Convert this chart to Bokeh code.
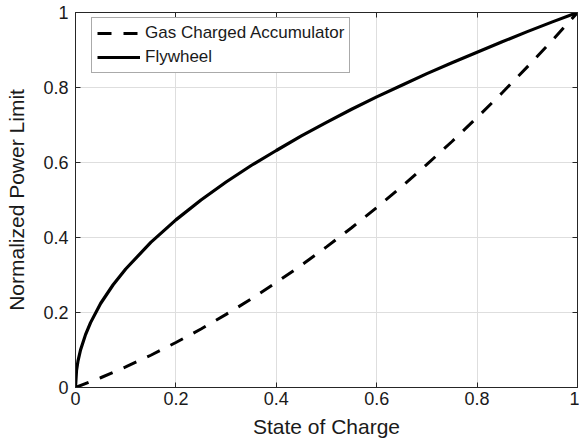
from bokeh.plotting import figure
from bokeh.models import FixedTicker, LinearAxis, Range1d, Legend, LegendItem
from bokeh.embed import file_html
from bokeh.resources import INLINE

# ---- data ----
soc_flywheel = [0, 0.002, 0.005, 0.01, 0.02, 0.03, 0.05, 0.075, 0.1, 0.15, 0.2, 0.25,
                0.3, 0.35, 0.4, 0.45, 0.5, 0.55, 0.6, 0.65, 0.7, 0.75, 0.8, 0.85,
                0.9, 0.95, 1.0]
power_flywheel = [0, 0.045, 0.071, 0.1, 0.141, 0.173, 0.224, 0.274, 0.316, 0.387, 0.447, 0.5,
                  0.548, 0.592, 0.632, 0.671, 0.707, 0.742, 0.775, 0.806, 0.837, 0.866, 0.894, 0.922,
                  0.949, 0.975, 1.0]

soc_gas = [0, 0.05, 0.1, 0.15, 0.2, 0.25, 0.3, 0.35, 0.4, 0.45, 0.5,
           0.55, 0.6, 0.65, 0.7, 0.75, 0.8, 0.85, 0.9, 0.95, 1.0]
power_gas = [0, 0.026, 0.055, 0.086, 0.12, 0.156, 0.195, 0.236, 0.28, 0.326, 0.375,
             0.426, 0.48, 0.536, 0.595, 0.656, 0.72, 0.786, 0.855, 0.926, 1.0]

x_ticks = [0, 0.2, 0.4, 0.6, 0.8, 1]
x_tick_labels = ["0", "0.2", "0.4", "0.6", "0.8", "1"]
y_ticks = [0, 0.2, 0.4, 0.6, 0.8, 1]
y_tick_labels = ["0", "0.2", "0.4", "0.6", "0.8", "1"]

FONT = "Liberation Sans"
TXT = "#1a1a1a"
AX = "#262626"

p = figure(width=579, height=446, output_backend="svg", toolbar_location=None,
           x_range=Range1d(0, 1), y_range=Range1d(0, 1),
           min_border_left=75, min_border_right=2, min_border_top=12, min_border_bottom=59)
p.background_fill_color = "white"
p.border_fill_color = "white"
p.outline_line_color = AX
p.outline_line_width = 1

# main axes
for ax, ticks, labels in ((p.xaxis[0], x_ticks, x_tick_labels), (p.yaxis[0], y_ticks, y_tick_labels)):
    ax.ticker = FixedTicker(ticks=ticks)
    ax.major_label_overrides = {t: l for t, l in zip(ticks, labels)}
    ax.major_tick_in = 5
    ax.major_tick_out = 0
    ax.minor_tick_line_color = None
    ax.axis_line_color = AX
    ax.major_tick_line_color = AX
    ax.major_label_text_font = FONT
    ax.major_label_text_font_size = "18px"
    ax.major_label_text_color = TXT
    ax.axis_label_text_font = FONT
    ax.axis_label_text_font_size = "21px"
    ax.axis_label_text_font_style = "normal"
    ax.axis_label_text_color = TXT

p.xaxis.axis_label = "State of Charge"
p.yaxis.axis_label = "Normalized Power Limit"
p.xaxis.major_label_standoff = 4
p.xaxis.axis_label_standoff = 7
p.yaxis.major_label_standoff = 7
p.yaxis.axis_label_standoff = 12

# box ticks on top and right
for loc, ticks in (("above", x_ticks), ("right", y_ticks)):
    a = LinearAxis(ticker=FixedTicker(ticks=ticks))
    a.major_tick_in = 5
    a.major_tick_out = 0
    a.minor_tick_line_color = None
    a.axis_line_color = AX
    a.major_tick_line_color = AX
    a.major_label_text_font_size = "0px"
    a.major_label_text_color = None
    a.major_label_standoff = 0
    p.add_layout(a, loc)

p.xgrid.ticker = FixedTicker(ticks=x_ticks)
p.ygrid.ticker = FixedTicker(ticks=y_ticks)
p.grid.grid_line_color = "#dedede"
p.grid.grid_line_width = 1

r_gas = p.line(soc_gas, power_gas, line_color="black", line_width=3, line_dash="14 12")
r_fly = p.line(soc_flywheel, power_flywheel, line_color="black", line_width=3.2)

legend = Legend(items=[LegendItem(label="Gas Charged Accumulator", renderers=[r_gas]),
                       LegendItem(label="Flywheel", renderers=[r_fly])],
                location=(16, 314))
legend.label_text_font = FONT
legend.label_text_font_size = "17px"
legend.label_text_color = TXT
legend.border_line_color = "#555555"
legend.border_line_width = 1
legend.background_fill_color = "white"
legend.background_fill_alpha = 1
legend.padding = 5
legend.spacing = 4
legend.label_height = 20
legend.glyph_height = 20
legend.glyph_width = 43
legend.label_standoff = 5
legend.margin = 0
p.add_layout(legend, "center")

open("out.html", "w").write(file_html(p, INLINE))
